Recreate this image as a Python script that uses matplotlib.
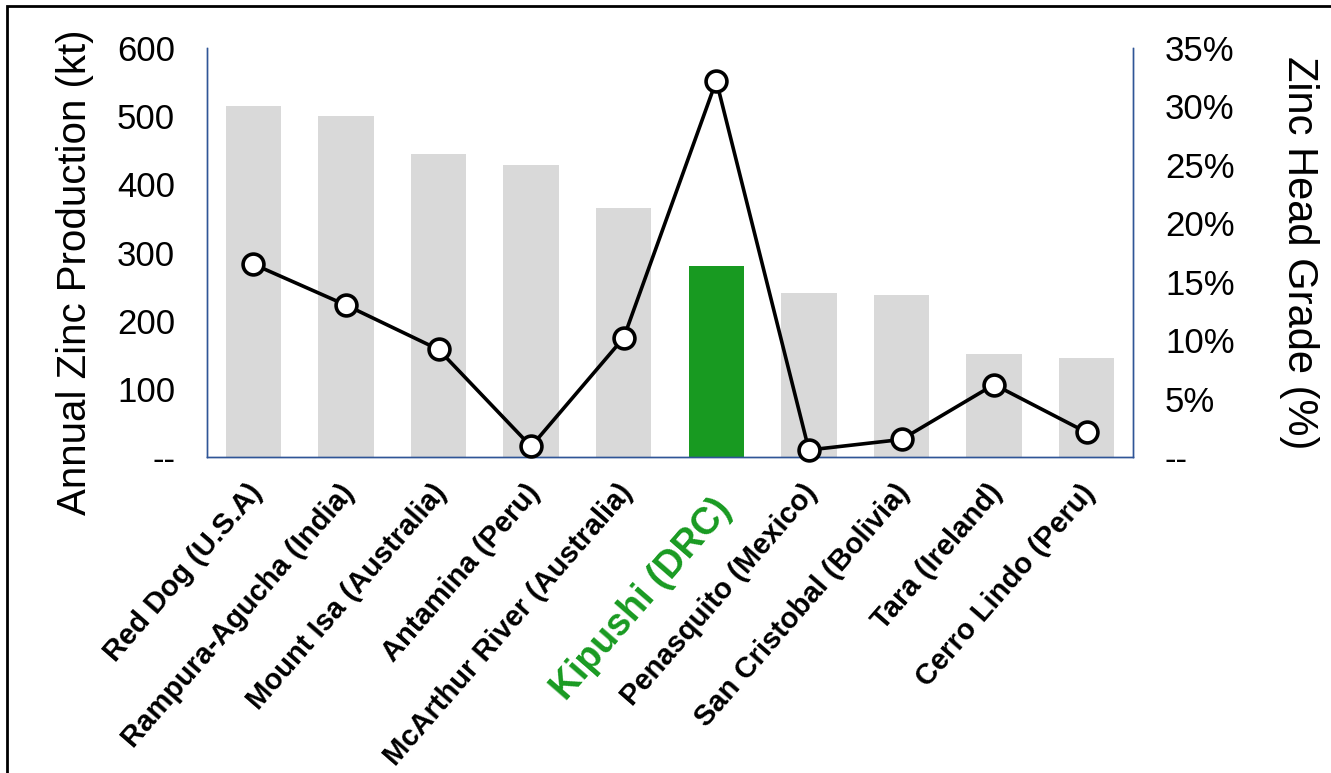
import numpy as np
import matplotlib.pyplot as plt
from matplotlib.patches import Rectangle
from matplotlib.transforms import ScaledTranslation
from matplotlib.ticker import FixedLocator, FixedFormatter

plt.rcParams['font.family'] = ['Liberation Sans', 'DejaVu Sans']

# ============================
# Data
# ============================
mines = ['Red Dog (U.S.A)', 'Rampura-Agucha (India)', 'Mount Isa (Australia)',
         'Antamina (Peru)', 'McArthur River (Australia)', 'Kipushi (DRC)',
         'Penasquito (Mexico)', 'San Cristobal (Bolivia)', 'Tara (Ireland)',
         'Cerro Lindo (Peru)']
production_kt = [515, 500, 444, 428, 365, 280, 240, 237, 151, 145]
head_grade_pct = [16.5, 13.0, 9.2, 0.9, 10.2, 32.2, 0.6, 1.5, 6.2, 2.1]
highlight = 'Kipushi (DRC)'

left_ticks = [0, 100, 200, 300, 400, 500, 600]
left_labels = ['--', '100', '200', '300', '400', '500', '600']
right_ticks = [0, 5, 10, 15, 20, 25, 30, 35]
right_labels = ['--', '5%', '10%', '15%', '20%', '25%', '30%', '35%']

grey = '#D9D9D9'
green = '#189A21'
spine_col = '#2F5597'

# ============================
# Figure
# ============================
fig = plt.figure(figsize=(13.31, 7.73), dpi=100)
ax = fig.add_axes([207/1331, 1 - 457/773, (1133-207)/1331, (457-48)/773])

x = np.arange(len(mines))
colors = [green if m == highlight else grey for m in mines]
ax.bar(x, production_kt, width=0.6, color=colors, zorder=1)
ax.set_xlim(-0.5, len(mines) - 0.5)
ax.set_ylim(0, 600)

ax2 = ax.twinx()
ax2.plot(x, head_grade_pct, color='black', linewidth=2.6, marker='o',
         markersize=15, markerfacecolor='white', markeredgecolor='black',
         markeredgewidth=2.6, zorder=3, clip_on=False)
ax2.set_ylim(0, 35)

# spines
for a in (ax, ax2):
    a.spines['top'].set_visible(False)
    for s in ('left', 'right', 'bottom'):
        a.spines[s].set_color(spine_col)
        a.spines[s].set_linewidth(1.0)

# y ticks
ax.yaxis.set_major_locator(FixedLocator(left_ticks))
ax.yaxis.set_major_formatter(FixedFormatter(left_labels))
ax.tick_params(axis='y', length=0, pad=23, labelsize=25)
ax2.yaxis.set_major_locator(FixedLocator(right_ticks))
ax2.yaxis.set_major_formatter(FixedFormatter(right_labels))
ax2.tick_params(axis='y', length=0, pad=23, labelsize=25)

# x category labels (rotated, Kipushi highlighted)
ax.set_xticks(x)
ax.set_xticklabels([])
ax.tick_params(axis='x', length=0)
trans = ax.get_xaxis_transform()
for i, name in enumerate(mines):
    if name == highlight:
        off = ScaledTranslation(-5/100, -35/100, fig.dpi_scale_trans)
        ax.text(i, 0, name, transform=trans + off, rotation=49,
                rotation_mode='anchor', ha='right', va='top',
                fontsize=27, fontweight='bold', color=green)
    else:
        off = ScaledTranslation(-7/100, -22/100, fig.dpi_scale_trans)
        ax.text(i, 0, name, transform=trans + off, rotation=49,
                rotation_mode='anchor', ha='right', va='top',
                fontsize=21, fontweight='bold', color='black')

# axis titles
ax.set_ylabel('Annual Zinc Production (kt)', fontsize=29)
ax.yaxis.set_label_coords(-0.1425, 0.452)
ax.yaxis.label.set_va('center')
ax2.set_ylabel('Zinc Head Grade (%)', fontsize=30, rotation=270)
ax2.yaxis.set_label_coords(1.1793, 0.5)
ax2.yaxis.label.set_va('center')

# outer frame
fig.patches.append(Rectangle((7/1331, -0.1), 1.2, 1 - 6/773 + 0.1,
                             transform=fig.transFigure, fill=False,
                             edgecolor='black', linewidth=2))

fig.savefig('out.png', dpi=100)
